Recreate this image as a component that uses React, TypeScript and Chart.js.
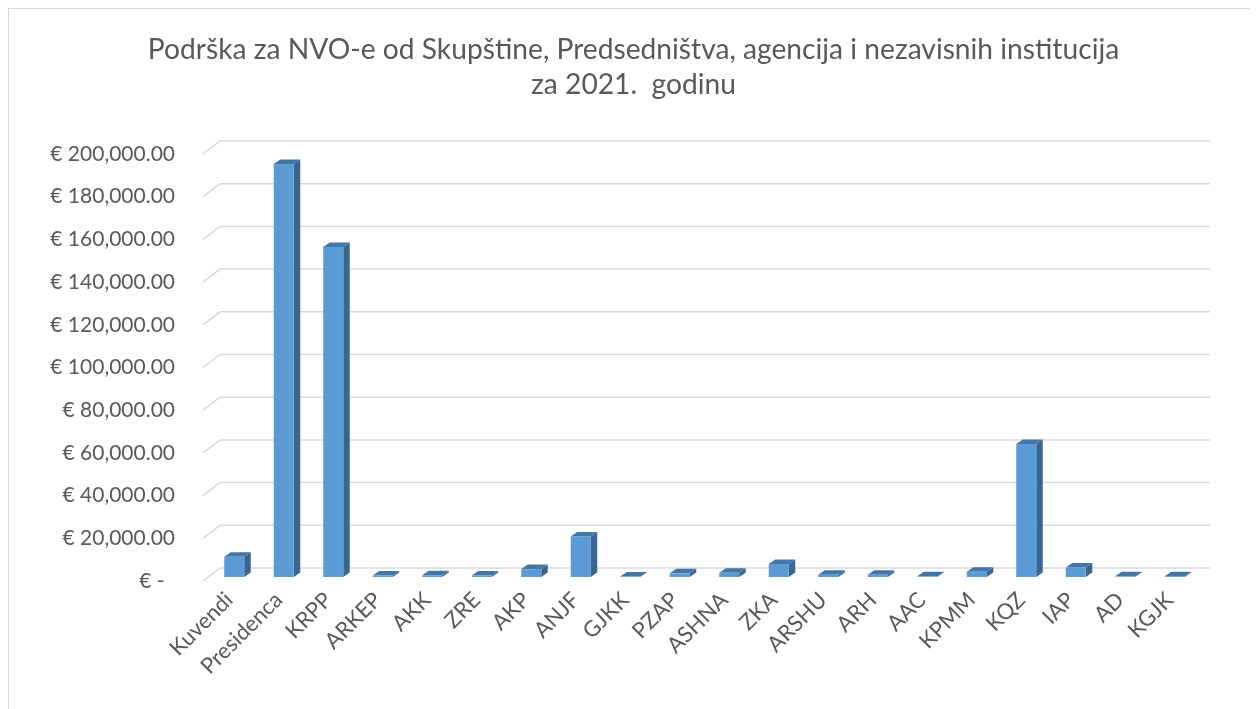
import React, { useEffect, useRef } from "react";
import { Chart, registerables } from "chart.js";

Chart.register(...registerables);

const categories = [
  "Kuvendi", "Presidenca", "KRPP", "ARKEP", "AKK", "ZRE", "AKP", "ANJF", "GJKK", "PZAP",
  "ASHNA", "ZKA", "ARSHU", "ARH", "AAC", "KPMM", "KQZ", "IAP", "AD", "KGJK",
];

const amounts = [
  9500, 193400, 154600, 700, 800, 700, 3700, 19000, 200, 1700,
  2000, 6100, 1100, 1000, 300, 2500, 62300, 4500, 300, 400,
];

const yTickValues = [0, 20000, 40000, 60000, 80000, 100000, 120000, 140000, 160000, 180000, 200000];

const titleLines = [
  "Podrška za NVO-e od Skupštine, Predsedništva, agencija i nezavisnih institucija",
  "za 2021.  godinu",
];

const FONT = "Lato";
const TEXT = "#595959";

const formatEuro = (v: number) =>
  v === 0
    ? "€ -\u2002"
    : "€ " + v.toLocaleString("en-US", { minimumFractionDigits: 2, maximumFractionDigits: 2 });

const wallPlugin = {
  id: "wall3d",
  beforeDatasetsDraw(chart: any) {
    const { ctx, chartArea } = chart;
    const ys = chart.scales.y;
    ctx.save();
    ctx.strokeStyle = "#d9d9d9";
    ctx.lineWidth = 1.5;
    yTickValues.forEach((v) => {
      const y = ys.getPixelForValue(v);
      ctx.beginPath();
      ctx.moveTo(chartArea.left - 6.5, y);
      ctx.lineTo(chartArea.left + 10.5, y - 13);
      ctx.lineTo(chartArea.right + 10.5, y - 13);
      ctx.stroke();
    });
    ctx.restore();
  },
};

const barsPlugin = {
  id: "bars3d",
  afterDatasetsDraw(chart: any) {
    const { ctx } = chart;
    const meta = chart.getDatasetMeta(0);
    const dy = -4;
    const ddx = 6.5;
    const ddy = -4.5;
    ctx.save();
    meta.data.forEach((bar: any) => {
      const { x, y, base, width } = bar.getProps(["x", "y", "base", "width"], true);
      const l = x - width / 2;
      const r = x + width / 2;
      const t = y + dy;
      const b = base + dy;
      ctx.fillStyle = "#386690";
      ctx.beginPath();
      ctx.moveTo(r, t);
      ctx.lineTo(r + ddx, t + ddy);
      ctx.lineTo(r + ddx, b + ddy);
      ctx.lineTo(r, b);
      ctx.closePath();
      ctx.fill();
      ctx.fillStyle = "#4475a3";
      ctx.beginPath();
      ctx.moveTo(l, t);
      ctx.lineTo(r, t);
      ctx.lineTo(r + ddx, t + ddy);
      ctx.lineTo(l + ddx, t + ddy);
      ctx.closePath();
      ctx.fill();
      ctx.fillStyle = "#5b9bd5";
      ctx.fillRect(l, t, width, b - t);
    });
    ctx.restore();
  },
};

export default function App() {
  const ref = useRef<HTMLCanvasElement | null>(null);

  useEffect(() => {
    if (!ref.current) return;
    const chart = new Chart(ref.current, {
      type: "bar",
      data: {
        labels: categories,
        datasets: [
          {
            data: amounts,
            backgroundColor: "rgba(0,0,0,0)",
            borderWidth: 0,
            barThickness: 20,
            yAxisID: "y",
          },
        ],
      },
      plugins: [wallPlugin, barsPlugin],
      options: {
        responsive: false,
        animation: false,
        layout: { padding: { left: 0, right: 0, top: 0, bottom: 0 } },
        plugins: {
          legend: { display: false },
          tooltip: { enabled: false },
          title: {
            display: true,
            text: titleLines,
            color: TEXT,
            font: { family: FONT, size: 28.2, weight: "normal", lineHeight: 1.241 },
            padding: { top: 23.5, bottom: 51.5 },
          },
        },
        scales: {
          x: {
            grid: { display: false, drawTicks: false },
            border: { display: false },
            ticks: {
              color: TEXT,
              font: { family: FONT, size: 22 },
              minRotation: 45,
              maxRotation: 45,
              padding: 6,
              labelOffset: -5,
              autoSkip: false,
            },
            afterFit: (s: any) => {
              s.height = 128;
            },
          },
          y: {
            min: 0,
            max: 200000,
            position: "left",
            grid: { display: false, drawTicks: false },
            border: { display: false },
            afterBuildTicks: (s: any) => {
              s.ticks = yTickValues.map((v) => ({ value: v }));
            },
            ticks: {
              color: TEXT,
              font: { family: FONT, size: 21 },
              padding: 34.5,
              callback: (v: any) => formatEuro(Number(v)),
            },
            afterFit: (s: any) => {
              s.width = 200.5;
            },
          },
          yRight: {
            position: "right",
            min: 0,
            max: 200000,
            grid: { display: false, drawTicks: false },
            border: { display: false },
            ticks: { display: false },
            afterFit: (s: any) => {
              s.width = 58.5;
            },
          },
        },
      },
    });
    return () => chart.destroy();
  }, []);

  return (
    <div
      style={{
        width: 1250,
        height: 701,
        boxSizing: "border-box",
        borderLeft: "1px solid #d9d9d9",
        borderTop: "1px solid #d9d9d9",
        background: "#fff",
        overflow: "hidden",
      }}
    >
      <canvas ref={ref} width={1249} height={700} style={{ display: "block" }} />
    </div>
  );
}
